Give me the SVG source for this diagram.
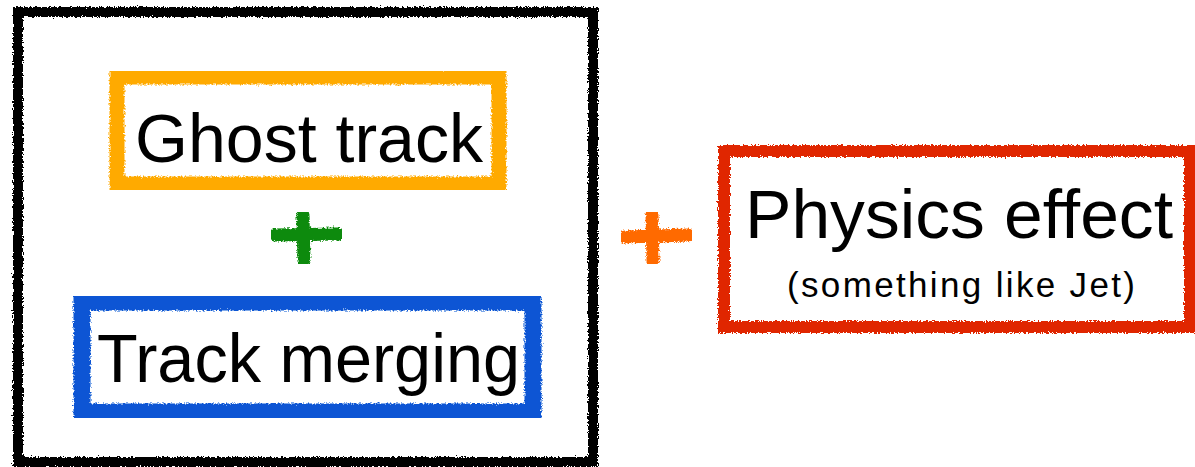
<svg xmlns="http://www.w3.org/2000/svg" width="1195" height="467" viewBox="0 0 1195 467">
  <defs>
    <filter id="rough" x="-5%" y="-5%" width="110%" height="110%">
      <feTurbulence type="fractalNoise" baseFrequency="0.6" numOctaves="2" seed="3" result="n"/>
      <feDisplacementMap in="SourceGraphic" in2="n" scale="5" xChannelSelector="R" yChannelSelector="G"/>
    </filter>
  </defs>
  <style>
    .box { fill: none; stroke-linejoin: miter; filter: url(#rough); }
    .plus { fill: none; stroke-linecap: round; filter: url(#rough); }
    .big { font-family: "Liberation Sans", Arial, sans-serif; font-size: 68px; fill: #000; }
    .small { font-family: "Liberation Sans", Arial, sans-serif; font-size: 35px; fill: #000; }
  </style>
  <rect width="1195" height="467" fill="#fff"/>

  <g id="outer-box">
    <rect class="box" x="18" y="12" width="575" height="450" stroke="#000" stroke-width="10"/>
  </g>

  <g id="ghost-track">
    <rect class="box" x="117" y="77" width="382" height="107" stroke="#FFAA00" stroke-width="15"/>
    <text class="big" x="135" y="162" textLength="348" lengthAdjust="spacingAndGlyphs">Ghost track</text>
  </g>

  <g id="plus-green">
    <path class="plus" d="M275 235 L338 234 M303 215 L304 261" stroke="#0A8A0A" stroke-width="13"/>
  </g>

  <g id="track-merging">
    <rect class="box" x="82" y="302" width="451" height="110" stroke="#0A55D4" stroke-width="17"/>
    <text class="big" x="97" y="382" textLength="423" lengthAdjust="spacingAndGlyphs">Track merging</text>
  </g>

  <g id="plus-orange">
    <path class="plus" d="M625 237 L688 235 M652 215 L653 261" stroke="#FF6A00" stroke-width="13"/>
  </g>

  <g id="physics-effect">
    <rect class="box" x="724" y="151" width="466" height="176" stroke="#E02800" stroke-width="12"/>
    <text class="big" x="745" y="238" textLength="428" lengthAdjust="spacingAndGlyphs">Physics effect</text>
    <text class="small" x="787" y="297" textLength="348" lengthAdjust="spacing">(something like Jet)</text>
  </g>

  <g id="connectors"/>
</svg>
